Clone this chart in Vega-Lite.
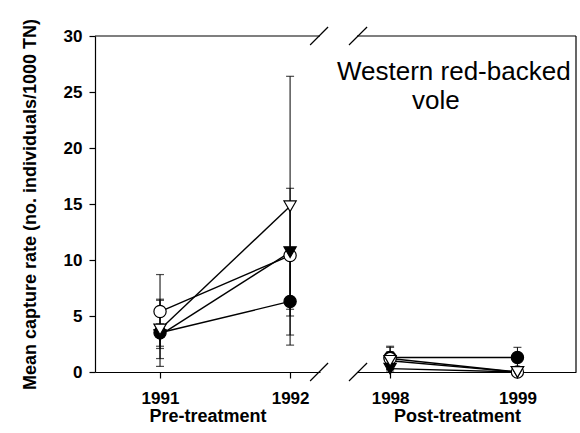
{
  "$schema": "https://vega.github.io/schema/vega-lite/v6.json",
  "background": "white",
  "padding": {"left": 21, "top": 18, "right": 5, "bottom": 5},
  "bounds": "flush",
  "spacing": 37,
  "config": {
    "view": {"stroke": null},
    "font": "Liberation Sans",
    "axis": {
      "domainColor": "black", "tickColor": "black", "labelColor": "black", "titleColor": "black",
      "grid": false, "labelFont": "Liberation Sans", "titleFont": "Liberation Sans",
      "labelFontWeight": "bold", "titleFontWeight": "bold", "labelFontSize": 17, "titleFontSize": 18,
      "tickSize": 6, "domainWidth": 1.2, "tickWidth": 1.2
    }
  },
  "datasets": {
    "vole": [
      {"series": "fc", "period": "pre", "year": 1991, "value": 3.5, "lo": 0.5, "hi": 6.5},
      {"series": "fc", "period": "pre", "year": 1992, "value": 6.3, "lo": 2.4, "hi": 10.2},
      {"series": "fc", "period": "post", "year": 1998, "value": 1.3, "lo": 0.3, "hi": 2.3},
      {"series": "fc", "period": "post", "year": 1999, "value": 1.3, "lo": 0.4, "hi": 2.2},
      {"series": "oc", "period": "pre", "year": 1991, "value": 5.4, "lo": 2.1, "hi": 8.7},
      {"series": "oc", "period": "pre", "year": 1992, "value": 10.4, "lo": 5.6, "hi": 15.2},
      {"series": "oc", "period": "post", "year": 1998, "value": 1.2, "lo": 0.2, "hi": 2.2},
      {"series": "oc", "period": "post", "year": 1999, "value": 0, "lo": 0, "hi": 0},
      {"series": "ft", "period": "pre", "year": 1991, "value": 3.3, "lo": 2.3, "hi": 4.3},
      {"series": "ft", "period": "pre", "year": 1992, "value": 10.7, "lo": 5.0, "hi": 16.4},
      {"series": "ft", "period": "post", "year": 1998, "value": 0.3, "lo": 0, "hi": 0.6},
      {"series": "ft", "period": "post", "year": 1999, "value": 0, "lo": 0, "hi": 0},
      {"series": "ot", "period": "pre", "year": 1991, "value": 3.8, "lo": 1.2, "hi": 6.4},
      {"series": "ot", "period": "pre", "year": 1992, "value": 14.8, "lo": 3.3, "hi": 26.4},
      {"series": "ot", "period": "post", "year": 1998, "value": 1.0, "lo": 0.2, "hi": 1.8},
      {"series": "ot", "period": "post", "year": 1999, "value": 0, "lo": 0, "hi": 0}
    ],
    "one": [{}]
  },
  "hconcat": [
    {
      "width": 225,
      "height": 336,
      "layer": [
        {
          "data": {"name": "vole"},
          "transform": [{"filter": "datum.period === 'pre'"}],
          "layer": [
            {
              "mark": {"type": "rule", "color": "black", "strokeWidth": 1},
              "encoding": {
                "x": {"field": "year", "type": "quantitative",
                      "scale": {"domain": [1990.5, 1992.23], "nice": false, "zero": false},
                      "axis": {"title": "Pre-treatment", "values": [1991, 1992], "format": "d", "labelPadding": 12, "titlePadding": 1}},
                "y": {"field": "lo", "type": "quantitative",
                      "scale": {"domain": [0, 30], "nice": false},
                      "axis": {"title": "Mean capture rate (no. individuals/1000 TN)", "values": [0, 5, 10, 15, 20, 25, 30], "labelPadding": 7, "titlePadding": 24}},
                "y2": {"field": "hi"}
              }
            },
            {
              "mark": {"type": "tick", "orient": "horizontal", "size": 8, "thickness": 1.2, "color": "black"},
              "encoding": {"x": {"field": "year", "type": "quantitative"}, "y": {"field": "lo", "type": "quantitative"}}
            },
            {
              "mark": {"type": "tick", "orient": "horizontal", "size": 8, "thickness": 1.2, "color": "black"},
              "encoding": {"x": {"field": "year", "type": "quantitative"}, "y": {"field": "hi", "type": "quantitative"}}
            },
            {
              "mark": {"type": "line", "color": "black", "strokeWidth": 1.4},
              "encoding": {"x": {"field": "year", "type": "quantitative"}, "y": {"field": "value", "type": "quantitative"}, "detail": {"field": "series"}}
            },
            {
              "mark": {"type": "point", "filled": true, "stroke": "black", "strokeWidth": 1.2, "opacity": 1, "size": 150},
              "encoding": {
                "x": {"field": "year", "type": "quantitative"},
                "y": {"field": "value", "type": "quantitative"},
                "shape": {"field": "series", "type": "nominal", "scale": {"domain": ["fc", "oc", "ft", "ot"], "range": ["circle", "circle", "triangle-down", "triangle-down"]}, "legend": null},
                "fill": {"field": "series", "type": "nominal", "scale": {"domain": ["fc", "oc", "ft", "ot"], "range": ["black", "white", "black", "white"]}, "legend": null}
              }
            }
          ]
        },
        {
          "data": {"name": "one"},
          "mark": {"type": "rule", "color": "black", "strokeWidth": 1.2},
          "encoding": {"y": {"datum": 30}}
        },
        {
          "data": {"name": "one"},
          "mark": {"type": "rule", "color": "black", "strokeWidth": 1.2},
          "encoding": {"x": {"datum": 1992.154}, "x2": {"datum": 1992.292}, "y": {"datum": 29.2}, "y2": {"datum": 30.8}}
        },
        {
          "data": {"name": "one"},
          "mark": {"type": "rule", "color": "black", "strokeWidth": 1.2},
          "encoding": {"x": {"datum": 1992.154}, "x2": {"datum": 1992.292}, "y": {"datum": -0.8}, "y2": {"datum": 0.8}}
        }
      ]
    },
    {
      "width": 219,
      "height": 336,
      "layer": [
        {
          "data": {"name": "vole"},
          "transform": [{"filter": "datum.period === 'post'"}],
          "layer": [
            {
              "mark": {"type": "rule", "color": "black", "strokeWidth": 1},
              "encoding": {
                "x": {"field": "year", "type": "quantitative",
                      "scale": {"domain": [1997.74, 1999.46], "nice": false, "zero": false},
                      "axis": {"title": "Post-treatment", "values": [1998, 1999], "format": "d", "labelPadding": 12, "titlePadding": 1, "titleX": 100}},
                "y": {"field": "lo", "type": "quantitative",
                      "scale": {"domain": [0, 30], "nice": false}, "axis": null},
                "y2": {"field": "hi"}
              }
            },
            {
              "mark": {"type": "tick", "orient": "horizontal", "size": 8, "thickness": 1.2, "color": "black"},
              "encoding": {"x": {"field": "year", "type": "quantitative"}, "y": {"field": "lo", "type": "quantitative"}}
            },
            {
              "mark": {"type": "tick", "orient": "horizontal", "size": 8, "thickness": 1.2, "color": "black"},
              "encoding": {"x": {"field": "year", "type": "quantitative"}, "y": {"field": "hi", "type": "quantitative"}}
            },
            {
              "mark": {"type": "line", "color": "black", "strokeWidth": 1.4},
              "encoding": {"x": {"field": "year", "type": "quantitative"}, "y": {"field": "value", "type": "quantitative"}, "detail": {"field": "series"}}
            },
            {
              "mark": {"type": "point", "filled": true, "stroke": "black", "strokeWidth": 1.2, "opacity": 1, "size": 150},
              "encoding": {
                "x": {"field": "year", "type": "quantitative"},
                "y": {"field": "value", "type": "quantitative"},
                "shape": {"field": "series", "type": "nominal", "scale": {"domain": ["fc", "oc", "ft", "ot"], "range": ["circle", "circle", "triangle-down", "triangle-down"]}, "legend": null},
                "fill": {"field": "series", "type": "nominal", "scale": {"domain": ["fc", "oc", "ft", "ot"], "range": ["black", "white", "black", "white"]}, "legend": null}
              }
            }
          ]
        },
        {
          "data": {"name": "one"},
          "mark": {"type": "rule", "color": "black", "strokeWidth": 1.2},
          "encoding": {"y": {"datum": 30}}
        },
        {
          "data": {"name": "one"},
          "mark": {"type": "rule", "color": "black", "strokeWidth": 1.2},
          "encoding": {"x": {"datum": 1999.46}}
        },
        {
          "data": {"name": "one"},
          "mark": {"type": "rule", "color": "black", "strokeWidth": 1.2},
          "encoding": {"x": {"datum": 1997.677}, "x2": {"datum": 1997.819}, "y": {"datum": 29.2}, "y2": {"datum": 30.8}}
        },
        {
          "data": {"name": "one"},
          "mark": {"type": "rule", "color": "black", "strokeWidth": 1.2},
          "encoding": {"x": {"datum": 1997.677}, "x2": {"datum": 1997.819}, "y": {"datum": -0.8}, "y2": {"datum": 0.8}}
        },
        {
          "data": {"name": "one"},
          "mark": {"type": "text", "text": "Western red-backed", "fontSize": 26, "font": "Liberation Sans", "align": "center", "baseline": "alphabetic", "color": "black"},
          "encoding": {"x": {"datum": 1998.5}, "y": {"datum": 26.07}}
        },
        {
          "data": {"name": "one"},
          "mark": {"type": "text", "text": "vole", "fontSize": 26, "font": "Liberation Sans", "align": "center", "baseline": "alphabetic", "color": "black"},
          "encoding": {"x": {"datum": 1998.36}, "y": {"datum": 23.45}}
        }
      ]
    }
  ]
}
